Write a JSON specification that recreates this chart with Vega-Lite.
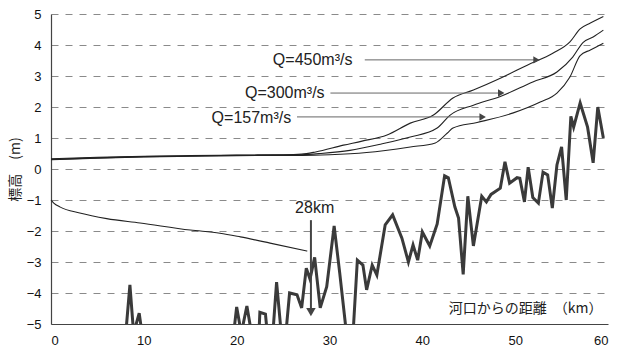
{
  "$schema": "https://vega.github.io/schema/vega-lite/v6.json",
  "width": 557,
  "height": 310,
  "autosize": {"type": "none"},
  "padding": {"left": 51, "top": 14, "right": 12, "bottom": 24},
  "background": "white",
  "config": {
    "view": {"stroke": null},
    "font": "Liberation Sans",
    "axis": {"labelFont": "Liberation Sans", "labelFontSize": 13, "labelColor": "#111", "domainColor": "#444", "domainWidth": 1.2, "ticks": false, "labelOverlap": false}
  },
  "datasets": {
    "water": [
      {"q": "450", "x": 0, "y": 0.33}, {"q": "450", "x": 5, "y": 0.38}, {"q": "450", "x": 10, "y": 0.41}, {"q": "450", "x": 15, "y": 0.43}, {"q": "450", "x": 20, "y": 0.45}, {"q": "450", "x": 25, "y": 0.46}, {"q": "450", "x": 27, "y": 0.48},
      {"q": "450", "x": 28.5, "y": 0.55}, {"q": "450", "x": 31.5, "y": 0.77}, {"q": "450", "x": 33.5, "y": 0.9}, {"q": "450", "x": 36.2, "y": 1.1}, {"q": "450", "x": 38.7, "y": 1.48}, {"q": "450", "x": 41.2, "y": 1.74}, {"q": "450", "x": 43.3, "y": 2.29}, {"q": "450", "x": 45.5, "y": 2.55}, {"q": "450", "x": 48.4, "y": 2.93}, {"q": "450", "x": 51.3, "y": 3.35}, {"q": "450", "x": 54.1, "y": 3.74}, {"q": "450", "x": 55.9, "y": 4.1}, {"q": "450", "x": 57.0, "y": 4.52}, {"q": "450", "x": 58.1, "y": 4.71}, {"q": "450", "x": 59.5, "y": 4.92},
      {"q": "300", "x": 0, "y": 0.31}, {"q": "300", "x": 5, "y": 0.36}, {"q": "300", "x": 10, "y": 0.4}, {"q": "300", "x": 15, "y": 0.42}, {"q": "300", "x": 20, "y": 0.44}, {"q": "300", "x": 25, "y": 0.45}, {"q": "300", "x": 27, "y": 0.46},
      {"q": "300", "x": 29, "y": 0.5}, {"q": "300", "x": 32.2, "y": 0.6}, {"q": "300", "x": 35.5, "y": 0.8}, {"q": "300", "x": 38.7, "y": 1.03}, {"q": "300", "x": 41.6, "y": 1.32}, {"q": "300", "x": 43.0, "y": 1.74}, {"q": "300", "x": 45.5, "y": 2.06}, {"q": "300", "x": 48.4, "y": 2.34}, {"q": "300", "x": 51.9, "y": 2.81}, {"q": "300", "x": 54.5, "y": 3.13}, {"q": "300", "x": 56.2, "y": 3.61}, {"q": "300", "x": 57.3, "y": 4.08}, {"q": "300", "x": 58.4, "y": 4.26}, {"q": "300", "x": 59.5, "y": 4.48},
      {"q": "157", "x": 0, "y": 0.3}, {"q": "157", "x": 5, "y": 0.35}, {"q": "157", "x": 10, "y": 0.39}, {"q": "157", "x": 15, "y": 0.41}, {"q": "157", "x": 20, "y": 0.43}, {"q": "157", "x": 25, "y": 0.44}, {"q": "157", "x": 27, "y": 0.44},
      {"q": "157", "x": 30, "y": 0.46}, {"q": "157", "x": 34, "y": 0.53}, {"q": "157", "x": 38.7, "y": 0.71}, {"q": "157", "x": 41.4, "y": 0.84}, {"q": "157", "x": 42.7, "y": 1.16}, {"q": "157", "x": 43.3, "y": 1.32}, {"q": "157", "x": 45.9, "y": 1.5}, {"q": "157", "x": 49.8, "y": 1.81}, {"q": "157", "x": 52.7, "y": 2.16}, {"q": "157", "x": 54.5, "y": 2.45}, {"q": "157", "x": 55.9, "y": 2.97}, {"q": "157", "x": 57.0, "y": 3.66}, {"q": "157", "x": 58.1, "y": 3.84}, {"q": "157", "x": 59.5, "y": 4.06}
    ],
    "salt": [
      {"x": 0, "y": -1.0}, {"x": 0.3, "y": -1.1}, {"x": 1.0, "y": -1.23}, {"x": 3.1, "y": -1.42}, {"x": 6.0, "y": -1.6}, {"x": 9.6, "y": -1.74}, {"x": 15, "y": -1.97}, {"x": 18.2, "y": -2.07}, {"x": 20.4, "y": -2.19}, {"x": 23.6, "y": -2.39}, {"x": 27.6, "y": -2.65}
    ],
    "bed": [
      {"x": 0, "y": -6}, {"x": 8.0, "y": -5.5}, {"x": 8.5, "y": -3.74}, {"x": 8.9, "y": -5.3}, {"x": 9.5, "y": -4.65}, {"x": 9.9, "y": -5.5},
      {"x": 19.6, "y": -5.5}, {"x": 20.0, "y": -4.45}, {"x": 20.5, "y": -5.3}, {"x": 21.1, "y": -4.42}, {"x": 21.6, "y": -5.3}, {"x": 22.4, "y": -5.3}, {"x": 22.5, "y": -4.62}, {"x": 23.1, "y": -4.68}, {"x": 23.3, "y": -5.3},
      {"x": 23.9, "y": -5.3}, {"x": 24.3, "y": -3.65}, {"x": 24.8, "y": -5.3}, {"x": 25.3, "y": -5.3}, {"x": 25.7, "y": -4.0}, {"x": 26.5, "y": -4.06}, {"x": 27.0, "y": -4.48},
      {"x": 27.5, "y": -3.2}, {"x": 27.9, "y": -3.55}, {"x": 28.4, "y": -2.85}, {"x": 29.0, "y": -4.48}, {"x": 29.7, "y": -3.8}, {"x": 30.5, "y": -1.84}, {"x": 31.1, "y": -3.35}, {"x": 31.9, "y": -5.5},
      {"x": 32.5, "y": -5.5}, {"x": 33.0, "y": -2.94}, {"x": 33.6, "y": -3.1}, {"x": 34.0, "y": -3.9}, {"x": 34.6, "y": -3.1}, {"x": 35.1, "y": -3.42}, {"x": 36.0, "y": -1.8}, {"x": 36.8, "y": -1.48}, {"x": 37.8, "y": -2.23}, {"x": 38.5, "y": -3.0}, {"x": 39.0, "y": -2.45}, {"x": 39.5, "y": -2.94},
      {"x": 40.0, "y": -2.03}, {"x": 40.8, "y": -2.48}, {"x": 41.6, "y": -1.77}, {"x": 42.4, "y": -0.22}, {"x": 42.8, "y": -0.28}, {"x": 43.5, "y": -1.22}, {"x": 43.9, "y": -1.58}, {"x": 44.4, "y": -3.4}, {"x": 44.9, "y": -0.88}, {"x": 45.5, "y": -2.48}, {"x": 46.4, "y": -0.88}, {"x": 46.9, "y": -1.06}, {"x": 47.4, "y": -0.82}, {"x": 48.4, "y": -0.62},
      {"x": 48.9, "y": 0.23}, {"x": 49.4, "y": -0.46}, {"x": 50.2, "y": -0.28}, {"x": 50.5, "y": -0.3}, {"x": 51.0, "y": -1.06}, {"x": 51.4, "y": 0.06}, {"x": 51.9, "y": -0.92}, {"x": 52.5, "y": -1.1}, {"x": 53.0, "y": -0.1}, {"x": 53.5, "y": -0.19}, {"x": 54.0, "y": -1.26}, {"x": 54.5, "y": 0.13}, {"x": 55.0, "y": 0.71}, {"x": 55.5, "y": -1.0},
      {"x": 56.0, "y": 1.7}, {"x": 56.3, "y": 1.35}, {"x": 57.0, "y": 2.13}, {"x": 57.8, "y": 1.35}, {"x": 58.4, "y": 0.2}, {"x": 58.9, "y": 2.0}, {"x": 59.5, "y": 1.0}
    ],
    "arrows": [
      {"x1": 33.8, "x2": 52.4, "y": 3.52},
      {"x1": 30.1, "x2": 48.5, "y": 2.45},
      {"x1": 26.5, "x2": 46.5, "y": 1.68}
    ],
    "heads": [
      {"x": 52.3, "y": 3.52},
      {"x": 48.5, "y": 2.45},
      {"x": 46.5, "y": 1.68}
    ],
    "labels": [
      {"x": 23.9, "y": 3.52, "t": "Q=450m³/s"},
      {"x": 20.9, "y": 2.45, "t": "Q=300m³/s"},
      {"x": 17.3, "y": 1.65, "t": "Q=157m³/s"}
    ]
  },
  "encoding": {
    "x": {"field": "x", "type": "quantitative", "scale": {"domain": [0, 60], "nice": false},
      "axis": {"values": [0, 10, 20, 30, 40, 50, 60], "grid": false, "labelPadding": 10, "title": null}},
    "y": {"field": "y", "type": "quantitative", "scale": {"domain": [-5, 5], "nice": false},
      "axis": {"values": [-5, -4, -3, -2, -1, 0, 1, 2, 3, 4, 5], "grid": true, "gridDash": [7, 7], "gridColor": "#8a8a8a", "gridWidth": 1, "labelPadding": 10,
        "title": "標高　(m)", "titleFont": "Noto Sans CJK JP", "titleFontSize": 14, "titleFontWeight": "normal", "titleColor": "#222", "titlePadding": 4}}
  },
  "layer": [
    {
      "data": {"name": "water"},
      "mark": {"type": "line", "color": "#222", "strokeWidth": 1.1, "interpolate": "monotone"},
      "encoding": {"detail": {"field": "q"}}
    },
    {
      "data": {"name": "salt"},
      "mark": {"type": "line", "color": "#222", "strokeWidth": 1.1, "interpolate": "monotone"},
      "encoding": {}
    },
    {
      "data": {"name": "bed"},
      "mark": {"type": "line", "color": "#3a3a3a", "strokeWidth": 3, "clip": true, "strokeJoin": "miter"},
      "encoding": {}
    },
    {
      "data": {"name": "arrows"},
      "mark": {"type": "rule", "color": "#666", "strokeWidth": 1},
      "encoding": {"x": {"field": "x1", "type": "quantitative"}, "x2": {"field": "x2"}}
    },
    {
      "data": {"name": "heads"},
      "mark": {"type": "point", "shape": "triangle-right", "filled": true, "color": "#444", "size": 55, "opacity": 1},
      "encoding": {}
    },
    {
      "data": {"values": [{"x": 28.0, "y1": -1.65, "y2": -4.6}]},
      "mark": {"type": "rule", "color": "#444", "strokeWidth": 2},
      "encoding": {"y": {"field": "y1", "type": "quantitative"}, "y2": {"field": "y2"}}
    },
    {
      "data": {"values": [{"x": 28.0, "y": -4.62}]},
      "mark": {"type": "point", "shape": "triangle-down", "filled": true, "color": "#444", "size": 90, "opacity": 1},
      "encoding": {}
    },
    {
      "data": {"name": "labels"},
      "mark": {"type": "text", "align": "left", "baseline": "middle", "font": "Liberation Sans", "fontSize": 16, "color": "#222"},
      "encoding": {"text": {"field": "t"}}
    },
    {
      "data": {"values": [{"x": 28.4, "y": -1.26, "t": "28km"}]},
      "mark": {"type": "text", "align": "center", "baseline": "middle", "font": "Liberation Sans", "fontSize": 16, "color": "#222"},
      "encoding": {"text": {"field": "t"}}
    },
    {
      "data": {"values": [{"x": 59.4, "y": -4.52, "t": "河口からの距離　（km）"}]},
      "mark": {"type": "text", "align": "right", "baseline": "middle", "font": "Noto Sans CJK JP", "fontSize": 14, "color": "#222"},
      "encoding": {"text": {"field": "t"}}
    }
  ]
}
